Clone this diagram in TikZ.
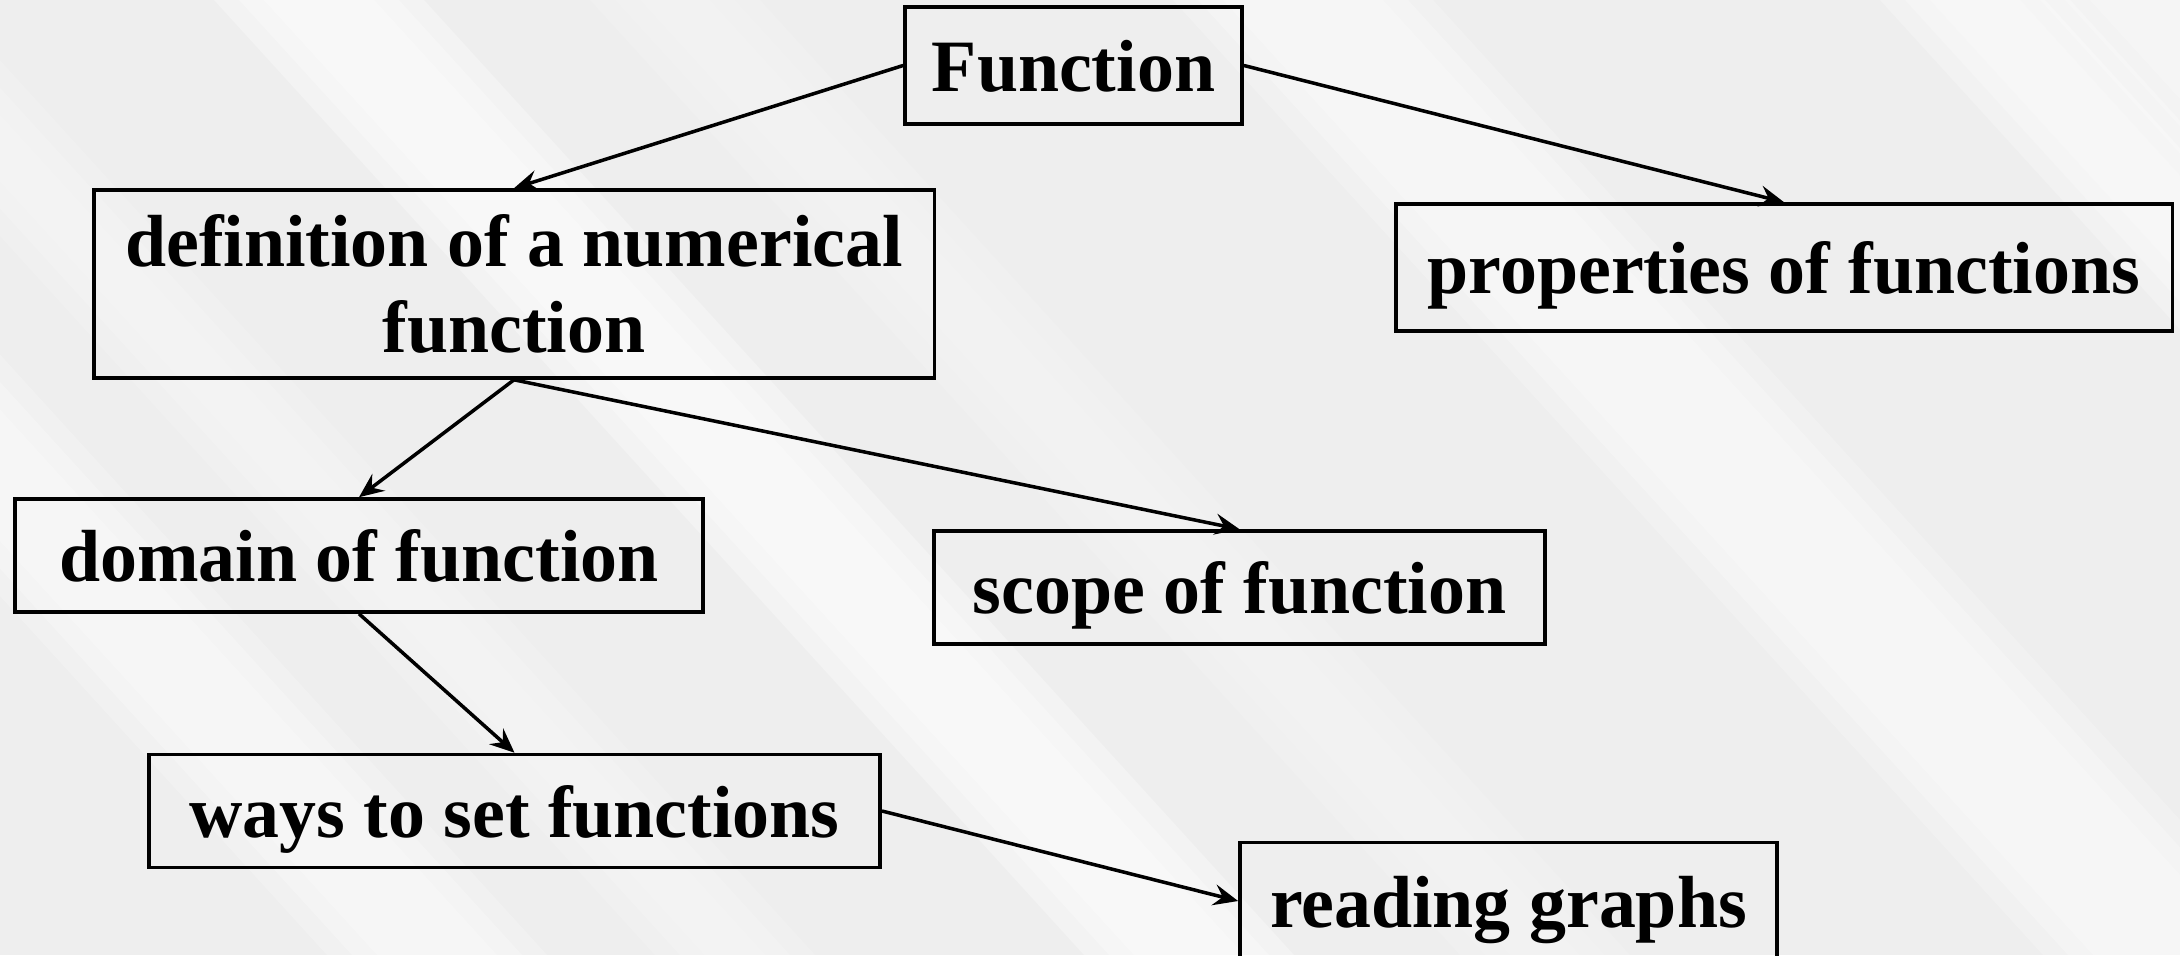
\documentclass[tikz,border=0pt]{standalone}
\usepackage{fontspec}
\setmainfont{Liberation Serif}
\usetikzlibrary{arrows.meta}
\definecolor{paper}{RGB}{238,238,238}
\tikzset{
  conceptbox/.style={draw, line width=1pt, align=center, inner sep=0pt,
    font=\fontsize{21}{24.5}\selectfont\bfseries},
  concept/.style={conceptbox, text height=15pt, text depth=0pt},
  link/.style={line width=1pt, -{Stealth[length=7pt, width=6pt, inset=2.5pt]}}
}
\begin{document}
\begin{tikzpicture}[x=0.01cm, y=-0.01cm]
\useasboundingbox (0,0) rectangle (2180,955);
% background with soft light stripes
\begin{scope}
\clip (0,0) rectangle (2180,955);
\fill[paper] (0,0) rectangle (2180,955);
\foreach \xo/\wd/\op in {-493/120/0.22, -165/60/0.15, 264/110/0.3, 640/70/0.12, 1223/160/0.22, 1930/90/0.25, 2090/90/0.2}
  \foreach \k in {0,1,2}
    \fill[white, opacity=\op] (\xo-25*\k,0) -- ++(\wd+50*\k,0) -- ++(870,955) -- ++(-\wd-50*\k,0) -- cycle;
\end{scope}
% concepts
\node[concept, minimum width=3.37cm, minimum height=1.17cm] (fn) at (1073.5,65.5) {Function};
\node[conceptbox, minimum width=8.40cm, minimum height=1.88cm] (def) at (514,284) {definition of a numerical\\function};
\node[concept, minimum width=7.76cm, minimum height=1.27cm] (prop) at (1784,267.5) {properties of functions};
\node[concept, minimum width=6.88cm, minimum height=1.13cm] (dom) at (359,555.5) {domain of function};
\node[concept, minimum width=6.11cm, minimum height=1.13cm] (scope) at (1239.5,587.5) {scope of function};
\node[concept, minimum width=7.31cm, minimum height=1.13cm] (ways) at (514.5,811) {ways to set functions};
\node[concept, minimum width=5.37cm, minimum height=1.17cm] (read) at (1508.5,901) {reading graphs};
% links
\draw[link] (fn.west) -- (def.north);
\draw[link] (fn.east) -- (prop.north);
\draw[link] (def.south) -- (dom.north);
\draw[link] (def.south) -- (scope.north);
\draw[link] (dom.south) -- (ways.north);
\draw[link] (ways.east) -- (read.west);
\end{tikzpicture}
\end{document}
